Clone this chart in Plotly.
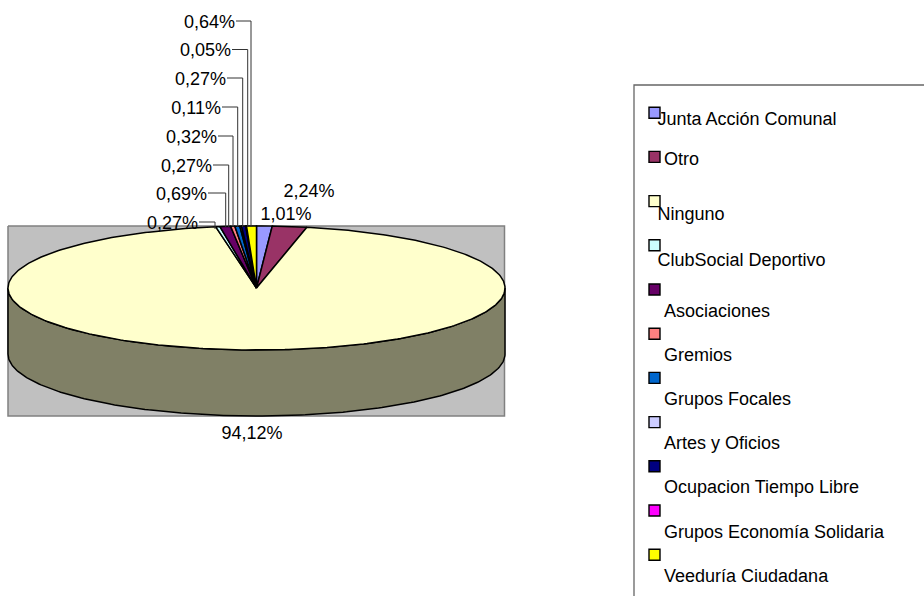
import numpy as np
import plotly.graph_objects as go

categories = [
    "Junta Acción Comunal",
    "Otro",
    "Ninguno",
    "ClubSocial Deportivo",
    "Asociaciones",
    "Gremios",
    "Grupos Focales",
    "Artes y Oficios",
    "Ocupacion Tiempo Libre",
    "Grupos Economía Solidaria",
    "Veeduría Ciudadana",
]
values = [1.01, 2.24, 94.12, 0.27, 0.69, 0.27, 0.32, 0.11, 0.27, 0.05, 0.64]
colors = [
    "#9999FF", "#993366", "#FFFFCC", "#CCFFFF", "#660066", "#FF8080",
    "#0066CC", "#CCCCFF", "#000080", "#FF00FF", "#FFFF00",
]

# pie geometry, in page pixels
cx, cy, rx, ry, depth = 256.5, 288, 248.5, 62, 66
side_color = "#808066"
font_family = "Liberation Sans, Arial, sans-serif"
font_size = 18

# legend placement
swatch_x = 654.5
swatch_y = [112.7 + 44.2 * i for i in range(11)]
legend_text_x = [657.5, 664, 657.5, 657.5, 664, 664, 664, 664, 664, 664, 664]
legend_text_y = [120, 160, 215, 261, 312, 356, 400, 444, 488, 533, 577]

# labels with leader lines: (text right edge, y, elbow x)
leader_order = [3, 4, 5, 6, 7, 8, 9, 10]
leader_right = [198, 207, 212, 217, 221, 226, 231, 235]
leader_y = [222, 193, 165, 136, 107, 78, 49.5, 21]
leader_x = [215, 225.7, 228.7, 233, 237.7, 242.7, 247.7, 251]
label_shift = 2


def fmt(v):
    return f"{v:.2f}".replace(".", ",") + "%"


def ellipse(t, dy=0):
    return cx + rx * np.sin(t), cy + dy - ry * np.cos(t)


fig = go.Figure()

# grey back wall
fig.add_trace(go.Scatter(
    x=[cx - rx, cx + rx - 0.5, cx + rx - 0.5, cx - rx, cx - rx],
    y=[cy - ry, cy - ry, cy + ry + depth, cy + ry + depth, cy - ry],
    mode="lines", fill="toself", fillcolor="#C0C0C0",
    line=dict(color="#808080", width=1.5), hoverinfo="skip",
))

# side of the cylinder
t = np.linspace(np.pi / 2, 3 * np.pi / 2, 200)
x_low, y_low = ellipse(t)
x_up, y_up = ellipse(t[::-1], depth)
fig.add_trace(go.Scatter(
    x=np.r_[x_low, x_up, x_low[0]], y=np.r_[y_low, y_up, y_low[0]],
    mode="lines", fill="toself", fillcolor=side_color,
    line=dict(color="black", width=1.5), hoverinfo="skip",
))

# top slices
edges = np.cumsum([0] + values) / sum(values) * 2 * np.pi
for i, name in enumerate(categories):
    n = max(4, int(values[i] * 4))
    t = np.linspace(edges[i], edges[i + 1], n)
    xs, ys = ellipse(t)
    fig.add_trace(go.Scatter(
        x=np.r_[cx, xs, cx], y=np.r_[cy, ys, cy],
        mode="lines", fill="toself", fillcolor=colors[i],
        line=dict(color="black", width=1.5), name=name,
        hovertemplate=name + ": " + fmt(values[i]) + "<extra></extra>",
    ))

# leader lines
for right, ly, lx in zip(leader_right, leader_y, leader_x):
    fig.add_trace(go.Scatter(
        x=[right + 1, lx, lx], y=[ly, ly, cy - ry + (1 if lx > 220 else 3)],
        mode="lines", line=dict(color="#333333", width=1), hoverinfo="skip",
    ))

# percentage labels
fig.add_trace(go.Scatter(
    x=leader_right, y=[v + label_shift for v in leader_y], mode="text",
    text=[fmt(values[i]) for i in leader_order], textposition="middle left",
    textfont=dict(family=font_family, size=font_size, color="black"), hoverinfo="skip",
))
fig.add_trace(go.Scatter(
    x=[286, 309, 252], y=[215, 192, 434], mode="text",
    text=[fmt(values[0]), fmt(values[1]), fmt(values[2])], textposition="middle center",
    textfont=dict(family=font_family, size=font_size, color="black"), hoverinfo="skip",
))

# legend frame, runs off the page at the bottom
fig.add_trace(go.Scatter(
    x=[930, 634, 634], y=[85, 85, 600], mode="lines",
    line=dict(color="#666666", width=1.3), hoverinfo="skip",
))
fig.add_trace(go.Scatter(
    x=[swatch_x] * 11, y=swatch_y, mode="markers",
    marker=dict(symbol="square", size=11, color=colors, line=dict(color="black", width=1.4)),
    hovertext=categories, hoverinfo="text",
))
fig.add_trace(go.Scatter(
    x=legend_text_x, y=legend_text_y, mode="text", text=categories,
    textposition="middle right",
    textfont=dict(family=font_family, size=font_size, color="black"), hoverinfo="skip",
))

fig.update_layout(
    width=924,
    height=596,
    margin=dict(l=0, r=0, t=0, b=0),
    paper_bgcolor="white",
    plot_bgcolor="white",
    showlegend=False,
)
fig.update_xaxes(range=[0, 924], visible=False)
fig.update_yaxes(range=[596, 0], visible=False)

# the page's default body margin would push the chart 8px down and right
fig.write_html(
    "out.html",
    config=dict(displayModeBar=False),
    post_script="document.body.style.margin='0';document.body.style.overflow='hidden';",
)
